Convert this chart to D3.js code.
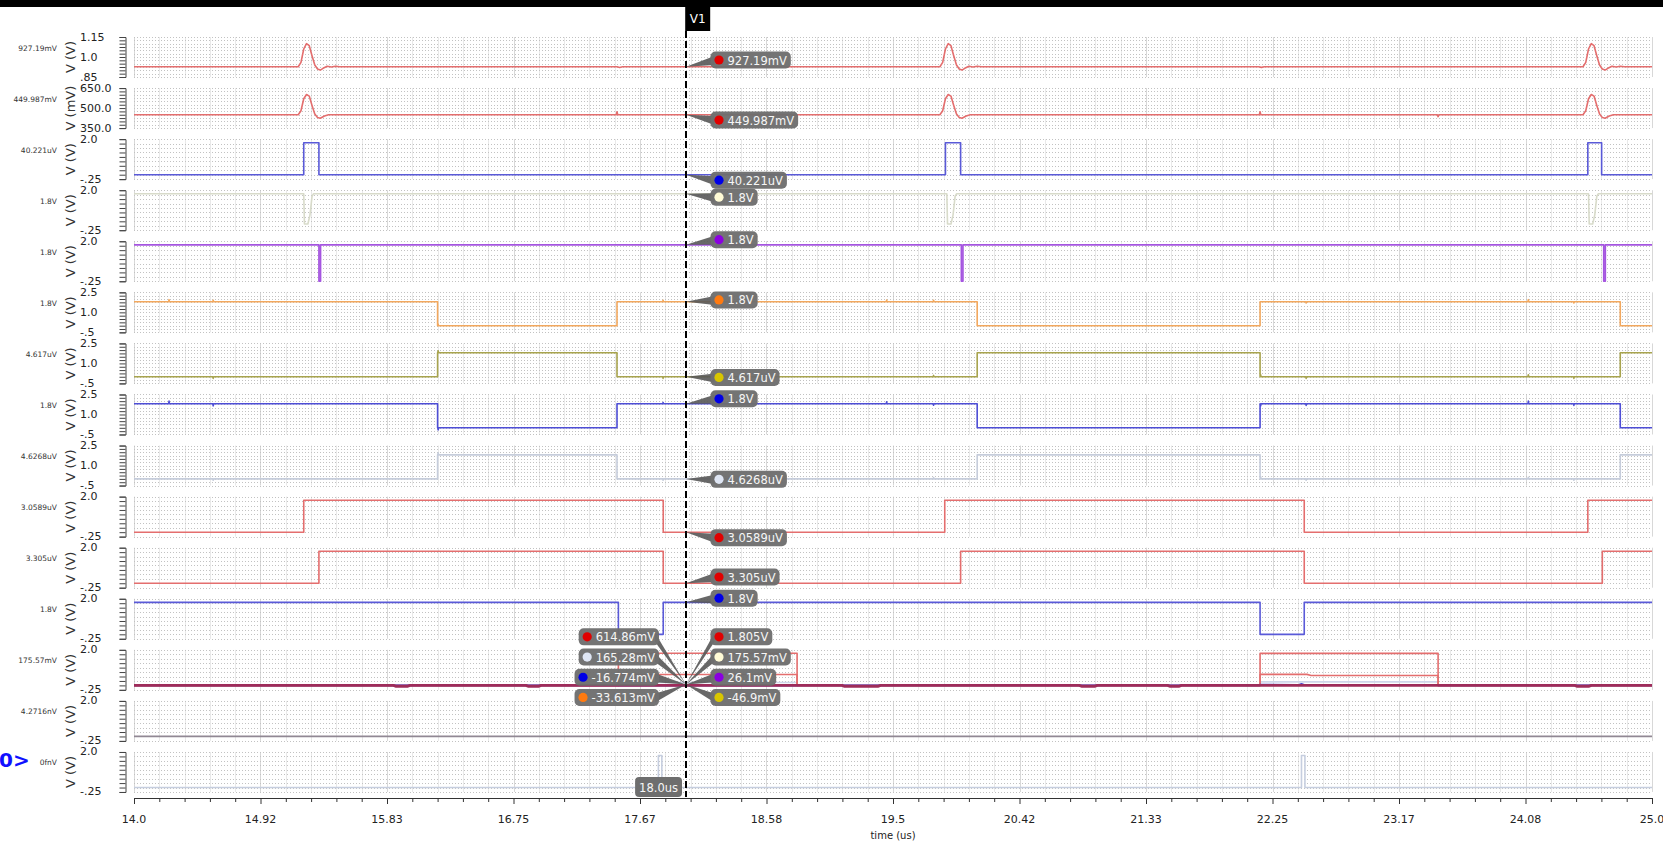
<!DOCTYPE html>
<html>
<head>
<meta charset="utf-8">
<script src="https://cdn.jsdelivr.net/npm/d3@7"></script>
<style>
  body { margin: 0; background: #fff; overflow: hidden; }
  svg { display: block; font-family: "DejaVu Sans", sans-serif; }
</style>
</head>
<body>
<svg id="chart" width="1663" height="843"></svg>
<script>
// ---------------------------------------------------------------
// Transient waveforms, 14 us .. 25 us, with cursor V1 at 18.0 us
// ---------------------------------------------------------------
const timeRange = [14.0, 25.0];
const timeTickLabels = ["14.0", "14.92", "15.83", "16.75", "17.67", "18.58", "19.5",
                        "20.42", "21.33", "22.25", "23.17", "24.08", "25.0"];
const cursorTime = 18.0;
const cursorName = "V1";
const cursorTimeText = "18.0us";

// value read at the left margin of every strip
const stripValueLabels = ["927.19mV", "449.987mV", "40.221uV", "1.8V", "1.8V", "1.8V",
  "4.617uV", "1.8V", "4.6268uV", "3.0589uV", "3.305uV", "1.8V", "175.57mV", "4.2716nV", "0fnV"];
const stripUnits = ["V (V)", "V (mV)", "V (V)", "V (V)", "V (V)", "V (V)", "V (V)", "V (V)",
  "V (V)", "V (V)", "V (V)", "V (V)", "V (V)", "V (V)", "V (V)"];

// y tick labels of the three kinds of strips
const ticksSupply = [[1.15, "1.15"], [1.0, "1.0"], [0.85, ".85"]];
const ticksMilli = [[650, "650.0"], [500, "500.0"], [350, "350.0"]];
const ticksLogic = [[2.0, "2.0"], [-0.25, "-.25"]];
const ticksWide = [[2.5, "2.5"], [1.0, "1.0"], [-0.5, "-.5"]];

// strip 1: supply node (V)
const sigSupply = [[14.00,0.927],[15.19,0.927],[15.21,0.96],[15.23,1.06],[15.25,1.10],[15.27,1.085],
  [15.29,1.01],[15.31,0.94],[15.33,0.91],[15.35,0.902],[15.37,0.915],[15.40,0.93],[15.43,0.925],
  [15.46,0.931],[15.49,0.927],[17.50,0.927],[17.52,0.921],[17.54,0.927],
  [19.84,0.927],[19.86,0.96],[19.88,1.06],[19.90,1.10],[19.92,1.085],[19.94,1.01],[19.96,0.94],
  [19.98,0.91],[20.00,0.902],[20.02,0.915],[20.05,0.93],[20.08,0.925],[20.11,0.931],[20.14,0.927],
  [22.15,0.927],[22.17,0.922],[22.19,0.927],
  [24.50,0.927],[24.52,0.96],[24.54,1.06],[24.56,1.10],[24.58,1.085],[24.60,1.01],[24.62,0.94],
  [24.64,0.91],[24.66,0.902],[24.68,0.915],[24.71,0.93],[24.74,0.925],[24.77,0.931],[24.80,0.927],
  [25.00,0.927]];

// strip 2: bias node (mV)
const sigBias = [[14.00,450],[15.19,450],[15.21,480],[15.23,570],[15.25,602],[15.27,590],[15.29,520],
  [15.31,455],[15.33,430],[15.35,424],[15.38,440],[15.41,450],[17.495,450],[17.50,472],[17.505,450],
  [19.84,450],[19.86,480],[19.88,570],[19.90,602],[19.92,590],[19.94,520],[19.96,455],[19.98,430],
  [20.00,424],[20.03,440],[20.06,450],[22.155,450],[22.16,472],[22.165,450],[23.445,450],[23.45,436],
  [23.455,450],[24.50,450],[24.52,480],[24.54,570],[24.56,602],[24.58,590],[24.60,520],[24.62,455],
  [24.64,430],[24.66,424],[24.69,440],[24.72,450],[25.00,450]];

// strip 3..5: short pulses
const sigPulse = [[14.00,0],[15.23,0],[15.23,1.8],[15.34,1.8],[15.34,0],[19.88,0],[19.88,1.8],
  [19.99,1.8],[19.99,0],[24.535,0],[24.535,1.8],[24.635,1.8],[24.635,0],[25.00,0]];
const sigPulseB = [[14.00,1.8],[15.23,1.8],[15.235,0.1],[15.26,0.1],[15.275,0.6],[15.29,1.65],
  [15.30,1.8],[19.89,1.8],[19.895,0.1],[19.92,0.1],[19.935,0.6],[19.95,1.65],[19.96,1.8],
  [24.54,1.8],[24.545,0.1],[24.57,0.1],[24.585,0.6],[24.60,1.65],[24.61,1.8],[25.00,1.8]];
const sigStrobe = [[14.00,1.8],[15.34,1.8],[15.34,-0.25],[15.352,-0.25],[15.352,1.8],[19.995,1.8],
  [19.995,-0.25],[20.007,-0.25],[20.007,1.8],[24.65,1.8],[24.65,-0.25],[24.662,-0.25],[24.662,1.8],
  [25.00,1.8]];

// strip 6..9: data phases
const sigPhaseA = [[14.00,1.8],[16.20,1.8],[16.20,0],[17.50,0],[17.50,1.8],[20.11,1.8],[20.11,0],
  [22.16,0],[22.16,1.8],[24.77,1.8],[24.77,0],[25.00,0]];
const sigPhaseB = [[14.00,0],[16.20,0],[16.20,1.8],[17.50,1.8],[17.50,0],[20.11,0],[20.11,1.8],
  [22.16,1.8],[22.16,0],[24.77,0],[24.77,1.8],[25.00,1.8]];
// small glitches [time, offset]
const glitchA = [[14.25,0.15],[14.57,0.1],[16.20,0.12],[17.83,0.1],[19.45,0.12],[19.79,0.1],
  [22.49,-0.1],[24.10,0.15],[24.43,-0.1]];
const glitchB = [[14.57,-0.12],[16.20,0.15],[17.83,-0.12],[19.79,0.1],[22.16,0.15],[22.49,-0.12],
  [24.10,0.15],[24.43,-0.12]];
const glitchC = [[14.25,0.2],[14.57,-0.15],[16.20,-0.15],[17.83,0.1],[19.45,0.15],[19.79,-0.1],
  [22.16,-0.15],[22.49,-0.12],[24.10,0.2],[24.43,-0.12]];
const glitchD = [[14.57,-0.1],[16.20,0.15],[17.83,-0.1],[19.79,0.1],[22.16,0.15],[22.49,-0.1],
  [24.10,0.12],[24.43,-0.1]];

// strip 10..12: enables
const sigEnA = [[14.00,0],[15.23,0],[15.23,1.8],[17.835,1.8],[17.835,0],[19.875,0],[19.875,1.8],
  [22.48,1.8],[22.48,0],[24.535,0],[24.535,1.8],[25.00,1.8]];
const sigEnB = [[14.00,0],[15.34,0],[15.34,1.8],[17.835,1.8],[17.835,0],[19.99,0],[19.99,1.8],
  [22.48,1.8],[22.48,0],[24.64,0],[24.64,1.8],[25.00,1.8]];
const sigEnC = [[14.00,1.8],[17.51,1.8],[17.51,0],[17.835,0],[17.835,1.8],[22.16,1.8],[22.16,0],
  [22.48,0],[22.48,1.8],[25.00,1.8]];

// strip 13: bus of eight nodes
const busRedHigh = [[14.00,0.0],[17.51,0.0],[17.51,1.805],[18.805,1.805],[18.805,0.0],[22.16,0.0],
  [22.16,1.8],[23.45,1.8],[23.45,0.0],[25.00,0.0]];
const busRedMid = [[14.00,0.0],[17.51,0.0],[17.51,0.615],[18.805,0.615],[18.805,0.0],[22.16,0.0],
  [22.16,0.62],[22.50,0.62],[22.53,0.56],[23.45,0.56],[23.45,0.0],[25.00,0.0]];
const busLight = [[14.00,0.0],[17.51,0.0],[17.51,0.165],[18.805,0.165],[18.805,0.0],[22.16,0.0],
  [22.16,0.2],[23.45,0.2],[23.45,0.0],[25.00,0.0]];
const busBlue = [[14.00,0.0],[17.51,0.0],[17.51,-0.017],[18.805,-0.017],[18.805,0.0],[22.16,0.0],
  [22.16,0.05],[22.44,0.04],[22.46,0.09],[22.48,0.03],[23.45,0.03],[23.45,0.0],[25.00,0.0]];
const busDark = [[14.00,0.0],[15.88,0.0],[15.90,-0.06],[15.98,-0.06],[16.00,0.0],[16.84,0.0],
  [16.86,-0.06],[16.93,-0.06],[16.95,0.0],[19.13,0.0],[19.15,-0.06],[19.39,-0.06],[19.41,0.0],
  [20.85,0.0],[20.87,-0.06],[20.96,-0.06],[20.98,0.0],[21.49,0.0],[21.51,-0.06],[21.57,-0.06],
  [21.59,0.0],[24.44,0.0],[24.46,-0.06],[24.54,-0.06],[24.56,0.0],[25.00,0.0]];

// strip 14, 15
const sigLeak = [[14.00,0.004],[25.00,0.004]];
const sigSense = [[14.00,0],[17.80,0],[17.80,1.8],[17.825,1.8],[17.825,0],[22.46,0],[22.46,1.8],
  [22.485,1.8],[22.485,0],[25.00,0]];

// cursor read-outs
const readRight = ["927.19mV", "449.987mV", "40.221uV", "1.8V", "1.8V", "1.8V", "4.617uV",
  "1.8V", "4.6268uV", "3.0589uV", "3.305uV", "1.8V"];
const readBusRight = ["1.805V", "175.57mV", "26.1mV", "-46.9mV"];
const readBusLeft = ["614.86mV", "165.28mV", "-16.774mV", "-33.613mV"];

// ---------------------------------------------------------------
const C = {
  red: "#e46e6e", blue: "#5a5ad8", pale: "#d8dbca", purple: "#a555e0", orange: "#f2a85e",
  olive: "#a8a44e", navy: "#4e4ed6", mist: "#c6cddb", dark: "#9e2c5a", gray: "#918894",
  dotRed: "#e00000", dotBlue: "#0000e6", dotCream: "#fffbd6", dotPurple: "#8a00e0",
  dotOrange: "#ff7a10", dotYellow: "#d8c600", dotMist: "#dfe6f4"
};

function withGlitches(base, glitches) {
  const levelAt = t => { let v = base[0][1]; for (const p of base) { if (p[0] <= t) v = p[1]; } return v; };
  const pts = base.slice();
  glitches.forEach(([t, dv]) => {
    const v = levelAt(t + 0.006);
    pts.push([t + 0.001, v], [t + 0.004, v + dv], [t + 0.007, v]);
  });
  // stable sort by time keeps vertical edges in order
  return pts.map((p, i) => [p, i]).sort((a, b) => a[0][0] - b[0][0] || a[1] - b[1]).map(d => d[0]);
}

const strips = [
  { domain: [0.85, 1.15], step: 0.025, ticks: ticksSupply, traces: [[sigSupply, C.red]] },
  { domain: [350, 650], step: 25, ticks: ticksMilli, traces: [[sigBias, C.red]] },
  { domain: [-0.25, 2.0], step: 0.25, ticks: ticksLogic, traces: [[sigPulse, C.blue]] },
  { domain: [-0.25, 2.0], step: 0.25, ticks: ticksLogic, traces: [[sigPulseB, C.pale]] },
  { domain: [-0.25, 2.0], step: 0.25, ticks: ticksLogic, traces: [[sigStrobe, C.purple]] },
  { domain: [-0.5, 2.5], step: 0.25, ticks: ticksWide, traces: [[withGlitches(sigPhaseA, glitchA), C.orange]] },
  { domain: [-0.5, 2.5], step: 0.25, ticks: ticksWide, traces: [[withGlitches(sigPhaseB, glitchB), C.olive]] },
  { domain: [-0.5, 2.5], step: 0.25, ticks: ticksWide, traces: [[withGlitches(sigPhaseA, glitchC), C.navy]] },
  { domain: [-0.5, 2.5], step: 0.25, ticks: ticksWide, traces: [[withGlitches(sigPhaseB, glitchD), C.mist]] },
  { domain: [-0.25, 2.0], step: 0.25, ticks: ticksLogic, traces: [[sigEnA, C.red]] },
  { domain: [-0.25, 2.0], step: 0.25, ticks: ticksLogic, traces: [[sigEnB, C.red]] },
  { domain: [-0.25, 2.0], step: 0.25, ticks: ticksLogic, traces: [[sigEnC, C.blue]] },
  { domain: [-0.25, 2.0], step: 0.25, ticks: ticksLogic,
    traces: [[busLight, "#cfd6ea"], [busRedHigh, C.red], [busRedMid, C.red], [busBlue, "#4a4ad0"],
             [busDark, C.dark, 2.8]] },
  { domain: [-0.25, 2.0], step: 0.25, ticks: ticksLogic, traces: [[sigLeak, C.gray]] },
  { domain: [-0.25, 2.0], step: 0.25, ticks: ticksLogic, traces: [[sigSense, "#c6cedf"]] }
];

// read-out placement: [strip, centre offset from strip top, dot colour]
const readPlace = [[0, 23, C.dotRed], [1, 32, C.dotRed], [2, 41, C.dotBlue], [3, 7, C.dotCream],
  [4, -1.6, C.dotPurple], [5, 7.6, C.dotOrange], [6, 34, C.dotYellow], [7, 4.3, C.dotBlue],
  [8, 33.8, C.dotMist], [9, 41, C.dotRed], [10, 29.3, C.dotRed], [11, -0.6, C.dotBlue]];
const busRightDots = [C.dotRed, C.dotCream, C.dotPurple, C.dotYellow];
const busLeftDots = [C.dotRed, C.dotMist, C.dotBlue, C.dotOrange];

// ---------------------------------------------------------------
const svg = d3.select("#chart");
const X0 = 134, X1 = 1652, TOP0 = 37, PITCH = 51.07, SH = 40, AXIS_Y = 798;
const x = d3.scaleLinear().domain(timeRange).range([X0, X1]);
const span = timeRange[1] - timeRange[0];
const majorTimes = timeTickLabels.map((_, i) => timeRange[0] + i * span / 12);
const minorTimes = d3.range(61).map(i => timeRange[0] + i * span / 60);

svg.append("rect").attr("width", 1663).attr("height", 843).attr("fill", "#fff");

const yScales = [];
strips.forEach((s, i) => {
  const top = TOP0 + i * PITCH;
  const y = d3.scaleLinear().domain(s.domain).range([top + SH, top]);
  yScales.push(y);
  const g = svg.append("g");
  const n = Math.round((s.domain[1] - s.domain[0]) / s.step);
  const yMinor = d3.range(n + 1).map(k => s.domain[0] + k * s.step);

  // grid
  g.append("g").selectAll("line").data(minorTimes).join("line")
    .attr("x1", d => Math.round(x(d)) + 0.5).attr("x2", d => Math.round(x(d)) + 0.5)
    .attr("y1", top).attr("y2", top + SH)
    .attr("stroke", (d, j) => j % 5 === 0 ? "#d8d8d8" : "#e9e9e9").attr("stroke-width", 1);
  g.append("g").selectAll("line").data(yMinor).join("line")
    .attr("x1", X0).attr("x2", X1).attr("y1", d => Math.round(y(d)) + 0.5).attr("y2", d => Math.round(y(d)) + 0.5)
    .attr("stroke", "#c2c2c2").attr("stroke-width", 1).attr("stroke-dasharray", "1,2");

  // y axis
  const ax = g.append("g").attr("transform", "translate(125.5,0)")
    .call(d3.axisLeft(y).tickValues(yMinor).tickSize(6).tickSizeOuter(6).tickFormat(""));
  ax.selectAll("path,line").attr("stroke", "#444");

  g.selectAll("text.tk").data(s.ticks).join("text").attr("class", "tk")
    .attr("x", 80).attr("y", d => y(d[0])).attr("dominant-baseline", "central")
    .attr("font-size", 11).attr("fill", "#222").text(d => d[1]);

  g.append("text").attr("transform", `translate(75,${top + 20}) rotate(-90)`)
    .attr("text-anchor", "middle").attr("font-size", 13).attr("fill", "#333").text(stripUnits[i]);
  g.append("text").attr("x", 57).attr("y", top + 11).attr("text-anchor", "end")
    .attr("dominant-baseline", "central").attr("font-size", 7.5).attr("fill", "#333")
    .text(stripValueLabels[i]);

  // traces
  const line = d3.line().x(d => x(d[0])).y(d => y(d[1]));
  s.traces.forEach(([data, col, w]) => {
    g.append("path").datum(data).attr("d", line).attr("fill", "none")
      .attr("stroke", col).attr("stroke-width", w || 1.6).attr("stroke-linejoin", "round");
  });
});

// time axis
const xa = svg.append("g").attr("transform", `translate(0,${AXIS_Y})`)
  .call(d3.axisBottom(x).tickValues(minorTimes).tickSize(4).tickSizeOuter(0).tickFormat(""));
xa.selectAll("path,line").attr("stroke", "#333");
xa.selectAll(".tick line").filter((d, j) => j % 5 === 0).attr("y2", 6);
svg.append("g").selectAll("text").data(majorTimes).join("text")
  .attr("x", d => x(d)).attr("y", 819).attr("text-anchor", "middle").attr("dominant-baseline", "central")
  .attr("font-size", 11).attr("fill", "#222").text((d, i) => timeTickLabels[i]);
svg.append("text").attr("x", (X0 + X1) / 2).attr("y", 835).attr("text-anchor", "middle")
  .attr("dominant-baseline", "central").attr("font-size", 10).attr("fill", "#222").text("time (us)");

// bus index marker at the left edge
svg.append("text").attr("x", -1).attr("y", 767).attr("font-size", 20).attr("font-weight", "bold")
  .attr("fill", "#1010ff").text("0>");

// top bar and cursor
svg.append("rect").attr("x", 0).attr("y", 0).attr("width", 1663).attr("height", 7).attr("fill", "#000");
const cx = x(cursorTime);
svg.append("line").attr("x1", cx).attr("x2", cx).attr("y1", 31).attr("y2", 797)
  .attr("stroke", "#000").attr("stroke-width", 2).attr("stroke-dasharray", "7,3");
svg.append("rect").attr("x", cx - 0.8).attr("y", 0).attr("width", 25).attr("height", 31).attr("fill", "#000");
svg.append("text").attr("x", cx + 11.7).attr("y", 19).attr("text-anchor", "middle")
  .attr("dominant-baseline", "central").attr("font-size", 12).attr("fill", "#fff").text(cursorName);

// read-out tags
const tagLayer = svg.append("g");
function tag(side, edgeX, cy, px, py, text, dot) {
  const g = tagLayer.append("g");
  const t = g.append("text").attr("font-size", 11.5).attr("fill", "#f6f6f6")
    .attr("dominant-baseline", "central").text(text);
  const w = t.node().getComputedTextLength();
  const bw = w + 21, bh = 17;
  const bx = side === "right" ? edgeX : edgeX - bw;
  const baseX = side === "right" ? bx + 4 : bx + bw - 4;
  g.insert("path", "text").attr("d", `M${px},${py}L${baseX},${cy - 4}L${baseX},${cy + 5}Z`)
    .attr("fill", "#585858").attr("opacity", 0.9);
  g.insert("rect", "text").attr("x", bx).attr("y", cy - bh / 2).attr("width", bw).attr("height", bh)
    .attr("rx", 5).attr("fill", "#6e6e6e").attr("opacity", 0.96);
  g.insert("circle", "text").attr("cx", bx + 8.5).attr("cy", cy).attr("r", 4.6).attr("fill", dot);
  t.attr("x", bx + 17).attr("y", cy + 0.5);
}
readPlace.forEach(([si, off, dot], k) => {
  const s = strips[si];
  const data = s.traces[0][0];
  let v = data[0][1];
  data.forEach(p => { if (p[0] <= cursorTime) v = p[1]; });
  const top = TOP0 + si * PITCH;
  tag("right", cx + 24.5, top + off, cx, yScales[si](v), readRight[k], dot);
});
const busTop = TOP0 + 12 * PITCH;
const busPoint = yScales[12](0.05);
readBusRight.forEach((txt, k) => tag("right", cx + 24.5, busTop - 13 + k * 20.2, cx, busPoint, txt, busRightDots[k]));
readBusLeft.forEach((txt, k) => tag("left", cx - 27, busTop - 13 + k * 20.2, cx, busPoint, txt, busLeftDots[k]));

// cursor time tag on the time axis
(function () {
  const g = tagLayer.append("g");
  const t = g.append("text").attr("font-size", 11.5).attr("fill", "#f6f6f6")
    .attr("dominant-baseline", "central").attr("text-anchor", "middle").text(cursorTimeText);
  const w = t.node().getComputedTextLength() + 8;
  g.insert("rect", "text").attr("x", cx - 4 - w).attr("y", 777).attr("width", w).attr("height", 20)
    .attr("rx", 4).attr("fill", "#6e6e6e");
  t.attr("x", cx - 4 - w / 2).attr("y", 787.5);
})();
</script>
</body>
</html>
